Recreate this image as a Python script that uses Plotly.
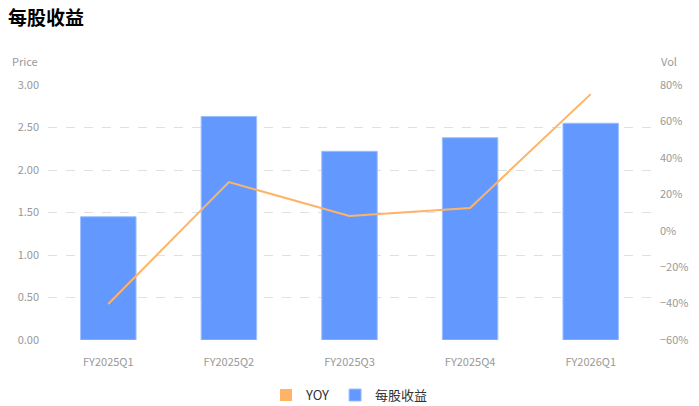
import plotly.graph_objects as go

# Data
quarters = ['FY2025Q1', 'FY2025Q2', 'FY2025Q3', 'FY2025Q4', 'FY2026Q1']
eps = [1.45, 2.63, 2.22, 2.38, 2.55]
yoy = [-40.2, 26.7, 8.1, 12.5, 75.0]

FONT = 'Noto Sans CJK SC'
bar_color = '#6399FF'
line_color = '#FFB366'
tick_font = dict(family=FONT, size=11, color='#999999')

fig = go.Figure()

fig.add_trace(go.Bar(x=quarters, y=eps, name='每股收益', marker_color=bar_color,
                     marker_line=dict(color='#9DBFFF', width=1), width=0.46,
                     yaxis='y', legendrank=2))
fig.add_trace(go.Scatter(x=quarters, y=yoy, name='YOY', mode='lines',
                         line=dict(color=line_color, width=2), yaxis='y2',
                         showlegend=False))
# square legend marker for the line series
fig.add_trace(go.Scatter(x=[None], y=[None], name='YOY', mode='markers',
                         marker=dict(symbol='square', size=12, color=line_color),
                         yaxis='y2', legendrank=1))

fig.update_layout(
    width=699, height=406,
    margin=dict(l=48, r=48, t=85, b=66, autoexpand=False),
    paper_bgcolor='white', plot_bgcolor='white',
    font=dict(family=FONT),
    xaxis=dict(showgrid=False, showline=False, ticks='', tickfont=tick_font,
               ticklabelstandoff=14, automargin=False),
    yaxis=dict(range=[0, 3], dtick=0.5, tickformat='.2f', showgrid=True,
               gridcolor='#E0E0E0', griddash='dash', zeroline=False,
               tickfont=tick_font, ticklabelstandoff=8, automargin=False),
    yaxis2=dict(range=[-60, 80], dtick=20, ticksuffix='%', overlaying='y',
                side='right', showgrid=False, zeroline=False,
                tickfont=tick_font, ticklabelstandoff=8, automargin=False),
    legend=dict(orientation='h', x=0.5, xanchor='center', y=-0.216, yanchor='middle',
                font=dict(family=FONT, size=13, color='#333333'),
                itemwidth=30, traceorder='normal'),
    showlegend=True,
    bargap=0.5,
    annotations=[
        dict(text='<b>每股收益</b>', xref='paper', yref='paper', x=-0.07, y=1.27,
             xanchor='left', yanchor='middle', showarrow=False,
             font=dict(family=FONT, size=19, color='#000000')),
        dict(text='Price', xref='paper', yref='paper', x=-0.038, y=1.094,
             xanchor='center', yanchor='middle', showarrow=False, font=tick_font),
        dict(text='Vol', xref='paper', yref='paper', x=1.03, y=1.094,
             xanchor='center', yanchor='middle', showarrow=False, font=tick_font),
    ],
)

fig.write_html('out.html', config={'displayModeBar': False},
               post_script="document.body.style.margin='0';")
